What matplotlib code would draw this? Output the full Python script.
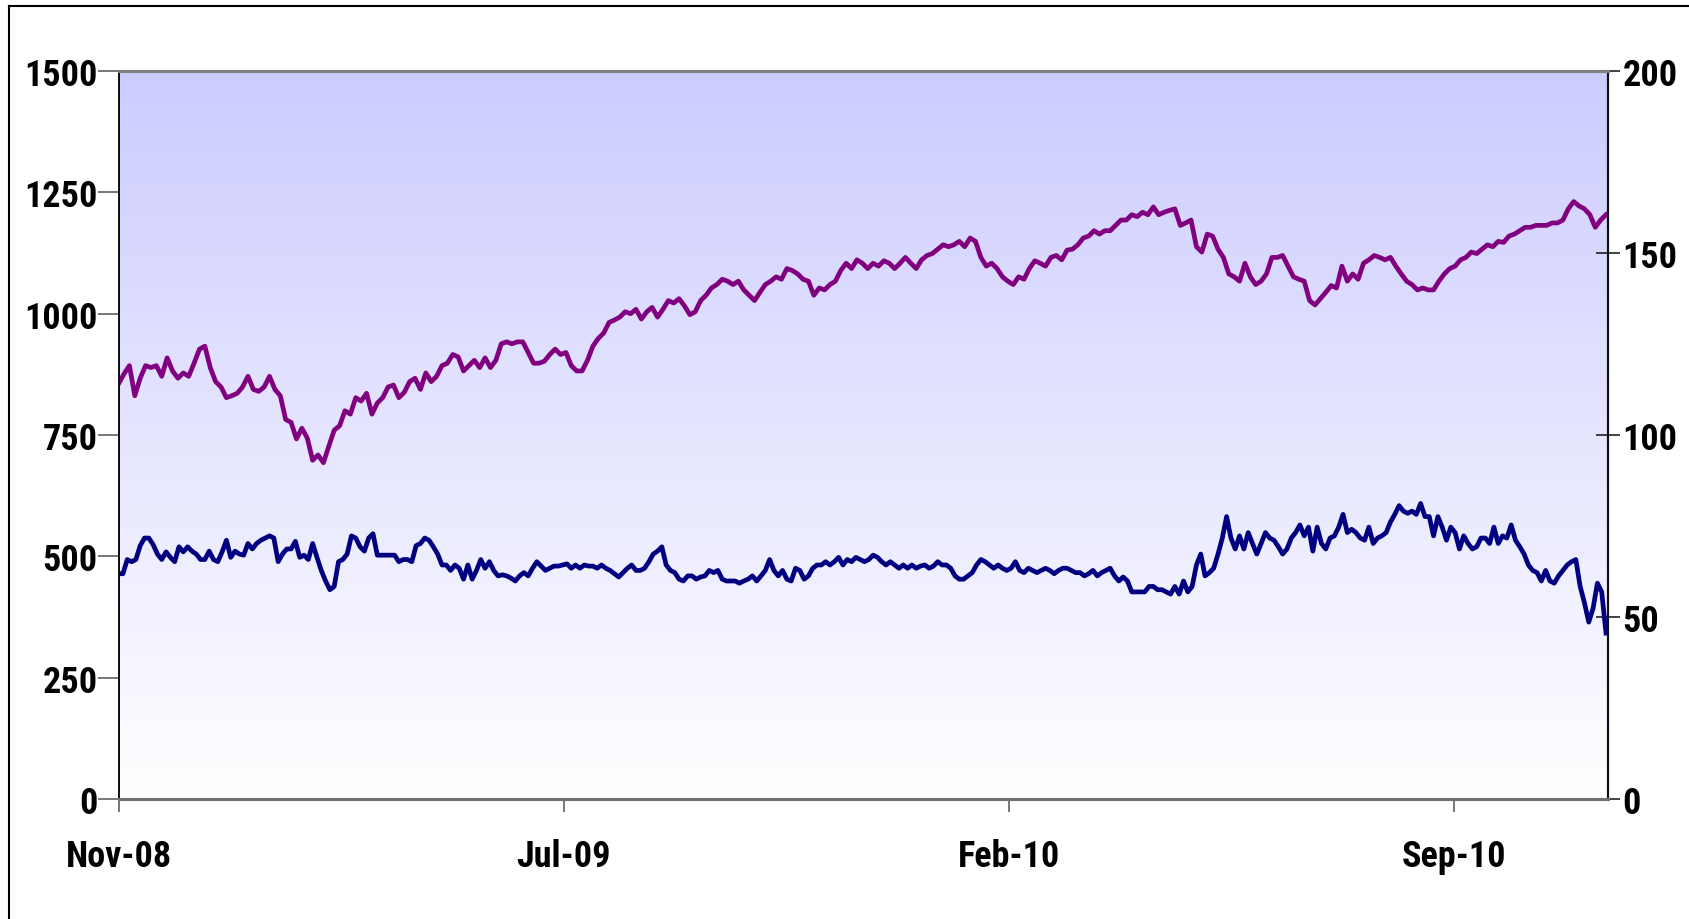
"""Index level (left axis) against a single share price (right axis), Nov-08 to late 2010."""

from __future__ import annotations

import matplotlib

matplotlib.use("Agg")
import matplotlib.dates as mdates
import matplotlib.pyplot as plt
import numpy as np
import pandas as pd
from matplotlib import font_manager
from matplotlib.lines import Line2D

START = pd.Timestamp("2008-11-28")
SPAN_DAYS = 735
TICK_STEP_DAYS = 220
N_TICKS = 4

# left axis series (purple) at even steps
index_level = [
    856, 876, 893, 831, 867, 893, 889, 893, 871, 909, 882, 867, 878, 871, 898, 927,
    933, 889, 860, 849, 827, 831, 836, 849, 871, 844, 840, 849, 871, 844, 831, 782,
    776, 742, 764, 744, 698, 709, 693, 727, 760, 769, 800, 793, 827, 820, 836, 793,
    816, 827, 849, 853, 827, 838, 860, 867, 844, 878, 860, 871, 893, 898, 916, 911,
    882, 893, 904, 889, 909, 889, 904, 938, 942, 938, 942, 942, 920, 898, 898, 902,
    916, 927, 916, 920, 893, 882, 882, 904, 933, 949, 960, 982, 987, 993, 1004, 1000,
    1009, 989, 1004, 1013, 993, 1009, 1027, 1022, 1031, 1016, 998, 1004, 1027, 1038, 1053, 1060,
    1071, 1067, 1060, 1067, 1049, 1038, 1027, 1044, 1060, 1067, 1076, 1071, 1093, 1089, 1082, 1071,
    1067, 1038, 1053, 1049, 1060, 1067, 1089, 1104, 1093, 1111, 1104, 1093, 1104, 1098, 1109, 1104,
    1093, 1104, 1116, 1104, 1093, 1111, 1120, 1124, 1133, 1142, 1138, 1142, 1149, 1138, 1156, 1149,
    1116, 1098, 1104, 1093, 1076, 1067, 1060, 1076, 1071, 1093, 1109, 1104, 1098, 1116, 1120, 1111,
    1131, 1133, 1142, 1156, 1160, 1171, 1164, 1171, 1171, 1182, 1193, 1193, 1204, 1200, 1209, 1204,
    1220, 1204, 1209, 1213, 1216, 1182, 1187, 1193, 1138, 1127, 1164, 1160, 1133, 1116, 1082, 1076,
    1067, 1104, 1076, 1060, 1067, 1082, 1116, 1116, 1120, 1098, 1076, 1071, 1067, 1027, 1018, 1031,
    1044, 1058, 1053, 1098, 1067, 1082, 1071, 1104, 1111, 1120, 1116, 1111, 1116, 1098, 1082, 1067,
    1060, 1049, 1053, 1049, 1049, 1067, 1082, 1093, 1098, 1111, 1116, 1127, 1124, 1133, 1142, 1138,
    1149, 1147, 1160, 1164, 1171, 1178, 1178, 1182, 1182, 1182, 1187, 1187, 1193, 1216, 1231, 1222,
    1216, 1204, 1178, 1193, 1204,
]

# right axis series (navy)
share_price = [
    61.9, 61.9, 65.8, 65.2, 65.8, 69.6, 71.7, 71.7, 69.9, 67.3, 65.8, 67.9, 66.4, 65.2, 69.3, 67.9,
    69.3, 68.1, 67.3, 65.8, 65.8, 68.1, 65.8, 65.2, 67.9, 71.1, 66.4, 68.1, 67.3, 67.0, 70.2, 68.7,
    70.2, 71.1, 71.7, 72.3, 71.7, 65.2, 67.3, 68.7, 68.7, 70.8, 66.4, 67.0, 65.8, 70.2, 66.4, 62.8,
    59.9, 57.5, 58.4, 65.2, 65.8, 67.3, 72.3, 71.7, 69.3, 68.1, 71.7, 72.9, 67.0, 67.0, 67.0, 67.0,
    67.0, 65.2, 65.8, 65.8, 65.2, 69.6, 70.2, 71.7, 71.1, 69.3, 67.3, 64.3, 64.3, 62.8, 64.3, 63.4,
    60.4, 64.3, 60.4, 62.8, 65.8, 63.4, 65.2, 62.8, 61.3, 61.6, 61.3, 60.7, 59.9, 61.3, 62.2, 61.3,
    63.4, 65.2, 64.0, 62.8, 63.4, 64.0, 64.0, 64.3, 64.6, 63.4, 64.3, 63.4, 64.3, 64.0, 64.0, 63.4,
    64.3, 63.4, 62.8, 61.9, 61.0, 62.2, 63.4, 64.3, 62.8, 62.8, 63.4, 65.2, 67.3, 68.1, 69.3, 64.3,
    62.8, 62.2, 60.4, 59.9, 61.3, 61.3, 60.4, 61.0, 61.3, 62.8, 62.2, 62.8, 60.4, 59.9, 59.9, 59.9,
    59.3, 59.9, 60.4, 61.3, 59.9, 61.3, 62.8, 65.8, 62.8, 61.3, 62.8, 60.4, 59.9, 63.4, 62.8, 60.4,
    61.3, 63.4, 64.3, 64.3, 65.2, 64.3, 65.2, 66.4, 64.3, 65.8, 65.2, 66.4, 65.8, 65.2, 65.8, 67.0,
    66.4, 65.2, 64.3, 65.2, 64.3, 63.4, 64.3, 63.4, 64.3, 63.4, 64.0, 64.3, 63.4, 64.0, 65.2, 64.3,
    64.3, 63.4, 61.3, 60.4, 60.4, 61.3, 62.2, 64.3, 65.8, 65.2, 64.3, 63.4, 64.3, 63.4, 62.8, 63.4,
    65.2, 62.8, 62.2, 63.4, 62.8, 62.2, 62.8, 63.4, 62.8, 61.9, 62.8, 63.4, 63.4, 62.8, 62.2, 62.2,
    61.3, 61.9, 62.8, 61.3, 62.2, 62.8, 63.4, 61.3, 59.9, 61.0, 59.9, 56.9, 56.9, 56.9, 56.9, 58.4,
    58.4, 57.5, 57.5, 56.9, 56.3, 58.4, 56.3, 59.9, 56.9, 58.4, 64.3, 67.3, 61.3, 62.2, 63.4, 67.3,
    71.7, 77.6, 71.7, 68.7, 72.3, 68.7, 73.2, 70.2, 67.3, 70.2, 73.2, 71.7, 71.1, 69.3, 67.3, 68.7,
    71.7, 73.2, 75.3, 72.3, 74.7, 68.1, 74.7, 70.2, 68.7, 71.7, 72.3, 74.7, 78.2, 73.2, 74.1, 73.2,
    71.7, 71.1, 74.7, 70.2, 71.7, 72.3, 73.2, 76.1, 78.2, 80.6, 79.1, 78.5, 79.1, 78.2, 81.2, 77.6,
    77.6, 72.3, 77.6, 74.7, 71.1, 74.7, 73.2, 68.7, 72.3, 70.2, 68.7, 69.3, 71.7, 71.7, 70.2, 74.7,
    70.2, 72.3, 71.7, 75.3, 71.1, 69.3, 67.3, 64.3, 62.8, 62.2, 59.9, 62.8, 59.9, 59.3, 61.3, 62.8,
    64.3, 65.2, 65.8, 58.4, 53.9, 48.6, 52.4, 59.3, 56.9, 45.6,
]

left_ticks = [0, 250, 500, 750, 1000, 1250, 1500]
right_ticks = [0, 50, 100, 150, 200]

PURPLE = "#800080"
NAVY = "#000080"
TOP_FILL = "#CCCCFF"


def _label_family() -> list[str]:
    installed = {f.name for f in font_manager.fontManager.ttflist}
    for name in ("Liberation Sans Narrow", "Arial Narrow", "Roboto Condensed", "Liberation Sans"):
        if name in installed:
            return [name, "DejaVu Sans"]
    return ["DejaVu Sans"]


def main() -> None:
    plt.rcParams["font.family"] = _label_family()
    plt.rcParams["font.weight"] = "bold"

    fig = plt.figure(figsize=(16.9, 9.2), dpi=100)
    ax = fig.add_axes([0.0702, 0.1304, 0.8813, 0.7913])
    ax2 = ax.twinx()

    index_dates = START + pd.to_timedelta(np.linspace(0, SPAN_DAYS, len(index_level)), unit="D")
    price_dates = START + pd.to_timedelta(np.linspace(0, SPAN_DAYS, len(share_price)), unit="D")

    # vertical lavender -> white wash behind the plot
    ramp = np.linspace(0, 1, 256).reshape(-1, 1)
    top = np.array(matplotlib.colors.to_rgb(TOP_FILL))
    wash = top + (1 - top) * ramp[..., None]
    ax.imshow(wash, extent=[0, 1, 0, 1], transform=ax.transAxes, aspect="auto",
              origin="upper", zorder=0)

    ax.plot(index_dates, index_level, color=PURPLE, lw=3.4, zorder=3, solid_joinstyle="round")
    ax2.plot(price_dates, share_price, color=NAVY, lw=3.4, zorder=3, solid_joinstyle="round")

    ax.set_xlim(START, START + pd.Timedelta(days=SPAN_DAYS + 1))
    ax.set_ylim(0, 1500)
    ax2.set_ylim(0, 200)
    ax.set_yticks(left_ticks)
    ax2.set_yticks(right_ticks)
    tick_dates = [START + pd.Timedelta(days=TICK_STEP_DAYS * i) for i in range(N_TICKS)]
    ax.set_xticks(tick_dates)
    ax.xaxis.set_major_formatter(mdates.DateFormatter("%b-%y"))

    ax.tick_params(axis="y", direction="out", length=15, width=1.2, color="#606060",
                   labelsize=26, pad=0)
    ax2.tick_params(axis="y", direction="inout", length=17, width=1.2, color="#202020",
                    labelsize=26, pad=2)
    ax.tick_params(axis="x", direction="out", length=9, width=1.2, color="#606060",
                   labelsize=26, pad=19)

    for a in (ax, ax2):
        a.spines["top"].set_color("#808080")
        a.spines["top"].set_linewidth(2.2)
        a.spines["bottom"].set_color("#707070")
        a.spines["bottom"].set_linewidth(2.2)
        a.spines["left"].set_color("#101010")
        a.spines["left"].set_linewidth(1.3)
        a.spines["right"].set_color("#101010")
        a.spines["right"].set_linewidth(1.5)
    ax2.patch.set_visible(False)

    # outer chart frame, open to the right and bottom edges of the image
    fx, fy = 9 / 1690, 1 - 7 / 920
    fig.add_artist(Line2D([fx, fx], [0, fy], color="black", lw=1.5, transform=fig.transFigure))
    fig.add_artist(Line2D([fx, 1], [fy, fy], color="black", lw=1.5, transform=fig.transFigure))

    fig.savefig("out.png", dpi=100)
    plt.close(fig)


if __name__ == "__main__":
    main()
